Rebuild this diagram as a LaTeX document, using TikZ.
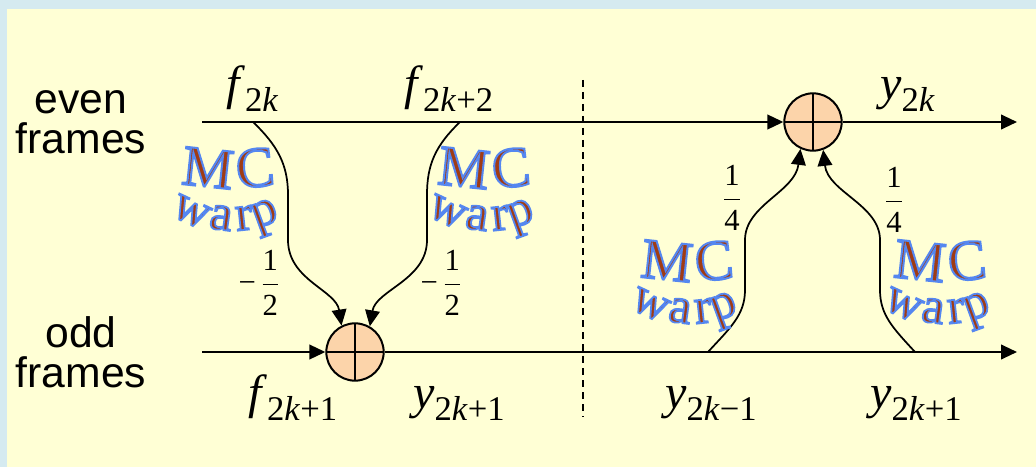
\documentclass[tikz,border=0pt]{standalone}
\usepackage{fontspec}
\setmainfont{Liberation Serif}
\newfontfamily\sansf{Liberation Sans}
\newfontfamily\mcfont[FakeBold=3.5]{Liberation Serif}
\usetikzlibrary{arrows.meta}
\definecolor{bgyellow}{RGB}{255,255,213}
\definecolor{bgblue}{RGB}{213,234,240}
\definecolor{sumfill}{RGB}{252,212,170}
\definecolor{mcbrown}{RGB}{160,60,20}
\newcommand\olt[1]{{\mcfont\color{mcbrown}\special{pdf:literal direct 0.333 0.529 0.941 RG}#1}}
\newcommand\sublab[2]{\textit{#1}\raisebox{-0.25em}{\fontsize{26}{26}\selectfont #2}}
\newcommand\frc[2]{$\displaystyle\frac{\hbox{#1}}{\hbox{#2}}$}
\tikzset{
  arr/.style={line width=1.5pt,-{Triangle[length=12pt,width=11pt]}},
  warpc/.style={line width=1.3pt,-{Triangle[length=12pt,width=11pt]}},
  divider/.style={line width=1.4pt,dash pattern=on 5.5pt off 3.5pt},
  sumnode/.style={circle,draw,line width=1.5pt,fill=sumfill,minimum size=43pt,inner sep=0pt,
    path picture={\draw[line width=1.5pt] (path picture bounding box.north) -- (path picture bounding box.south)
      (path picture bounding box.west) -- (path picture bounding box.east);}},
  sansl/.style={font=\sansf\fontsize{32}{30}\selectfont,align=center,inner sep=0pt},
  mathl/.style={font=\fontsize{36}{36}\selectfont,inner sep=0pt,anchor=base west},
  fracl/.style={font=\fontsize{23}{28}\selectfont,inner sep=0pt},
  mcl/.style={font=\fontsize{43}{43}\selectfont,inner sep=0pt},
  wpl/.style={font=\fontsize{38}{38}\selectfont,inner sep=0pt},
}
\newcommand\mcwarp[3]{%
  \begin{scope}[shift={(#2,#3)}]
    \node[mcl,rotate=-6] (#1M) at (-18,-22) {\olt{M}};
    \node[mcl,rotate=6] (#1C) at (29,-22) {\olt{C}};
    \node[wpl,rotate=-25] (#1w) at (-35,22) {\olt{w}};
    \node[wpl,rotate=-8] (#1a) at (-5,28) {\olt{a}};
    \node[wpl,rotate=6] (#1r) at (18,28) {\olt{r}};
    \node[wpl,rotate=20] (#1p) at (40,28) {\olt{p}};
  \end{scope}}
\begin{document}
\begin{tikzpicture}[x=0.75pt,y=-0.75pt]
\useasboundingbox (0,0) rectangle (1036,467);
\fill[bgblue] (0,0) rectangle (1036,467);
\fill[bgyellow] (7,9) rectangle (1036,467);

% row labels
\node[sansl] (even) at (81,122) {even\\frames};
\node[sansl] (odd) at (81,352) {odd\\frames};

% summation nodes
\node[sumnode] (sumT) at (813,122) {};
\node[sumnode] (sumB) at (355,352) {};

% main lines
\coordinate (ts) at (202,122);
\coordinate (te) at (1017,122);
\coordinate (bs) at (202,352);
\coordinate (be) at (1017,352);
\draw[arr] (ts) -- (sumT);
\draw[arr] (sumT) -- (te);
\draw[arr] (bs) -- (sumB);
\draw[arr] (sumB) -- (be);

% divider
\coordinate (dtop) at (583,80);
\coordinate (dbot) at (583,417);
\draw[divider] (dtop) -- (dbot);

% warp curves
\coordinate (c1) at (253,122);
\coordinate (c2) at (460,122);
\coordinate (c3) at (708,352);
\coordinate (c4) at (915,352);
\draw[warpc] (c1) .. controls (278,146) and (288,165) .. (288,195) -- (288,240)
   .. controls (288,280) and (336,290) .. (sumB.117);
\draw[warpc] (c2) .. controls (435,146) and (427,165) .. (427,195) -- (427,240)
   .. controls (427,280) and (376,290) .. (sumB.60);
\draw[warpc] (c3) .. controls (730,328) and (745,315) .. (745,290) -- (745,240)
   .. controls (745,205) and (795,192) .. (sumT.245);
\draw[warpc] (c4) .. controls (893,328) and (880,315) .. (880,290) -- (880,240)
   .. controls (880,205) and (828,192) .. (sumT.290);

% signal labels
\node[mathl] (f2k) at (226,100) {\sublab{f}{2\textit{k}}};
\node[mathl] (f2k2) at (404,100) {\sublab{f}{2\textit{k}+2}};
\node[mathl] (y2k) at (880,100) {\sublab{y}{2\textit{k}}};
\node[mathl] (f2k1) at (248,408) {\sublab{f}{2\textit{k}+1}};
\node[mathl] (y2k1a) at (413,408) {\sublab{y}{2\textit{k}+1}};
\node[mathl] (y2km1) at (665,408) {\sublab{y}{2\textit{k}−1}};
\node[mathl] (y2k1b) at (870,408) {\sublab{y}{2\textit{k}+1}};

% weights
\node[fracl] (wa) at (259,283) {−\,\frc{1}{2}};
\node[fracl] (wb) at (441,283) {−\,\frc{1}{2}};
\node[fracl] (wc) at (732,198) {\frc{1}{4}};
\node[fracl] (wd) at (894,200) {\frc{1}{4}};

% MC warp labels
\mcwarp{mw1}{226}{190}
\mcwarp{mw2}{482}{190}
\mcwarp{mw3}{685}{283}
\mcwarp{mw4}{938}{283}
\end{tikzpicture}
\end{document}
